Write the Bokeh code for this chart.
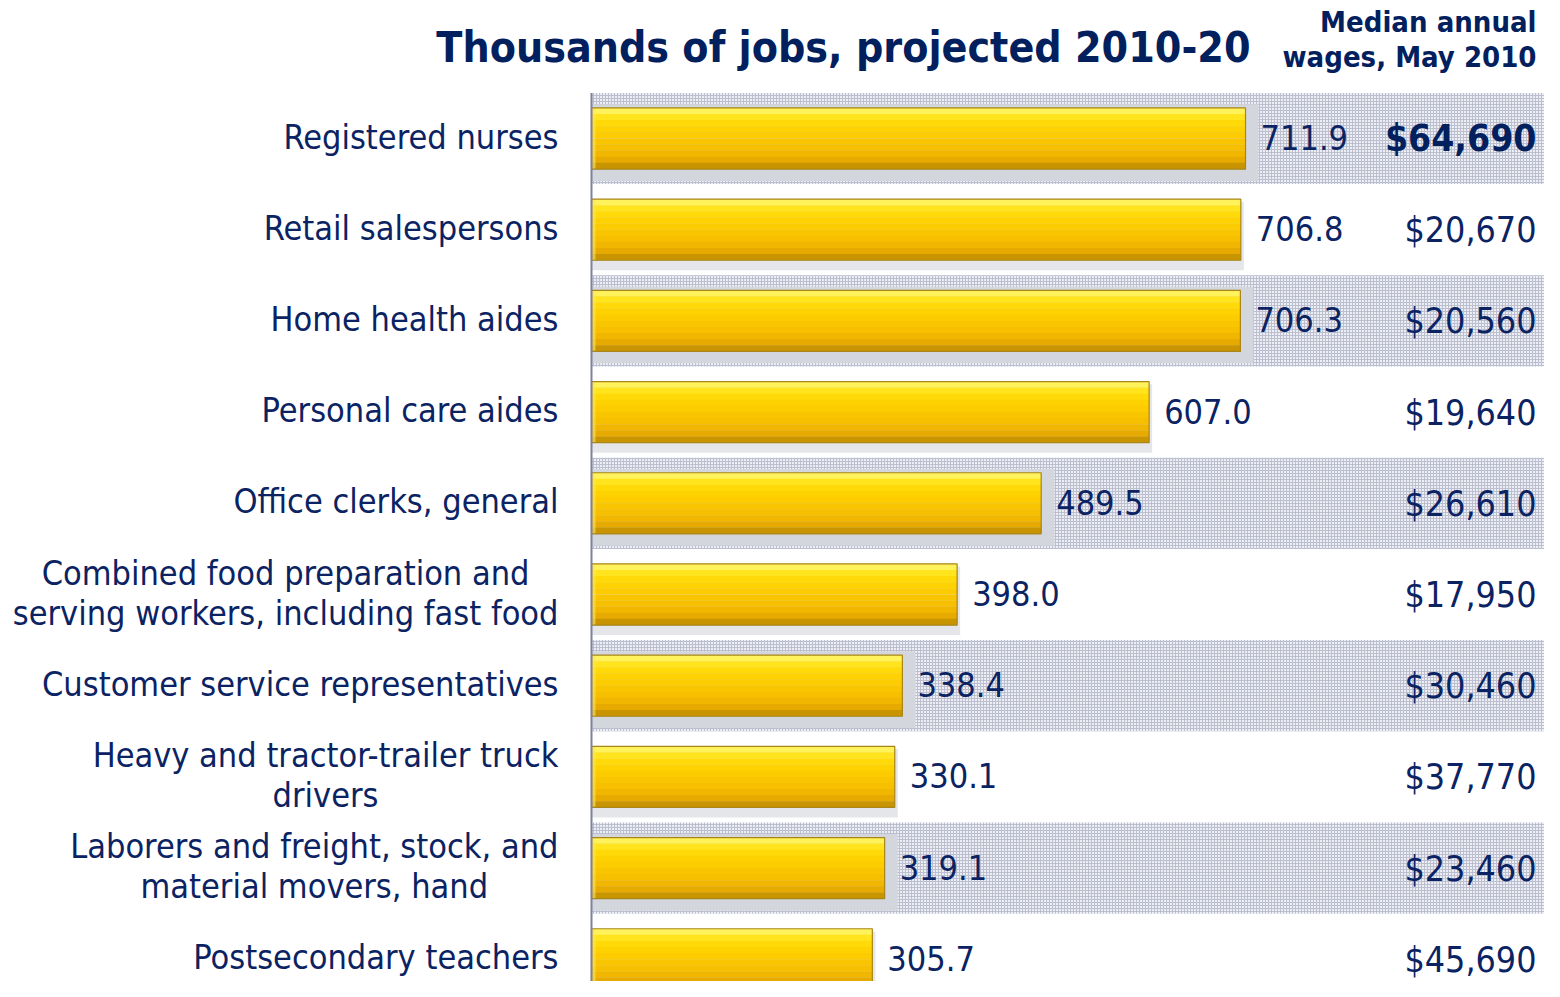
from bokeh.plotting import figure
from bokeh.models import Range1d
from bokeh.core.properties import value
from bokeh.embed import file_html
from bokeh.resources import INLINE

# ---------------- data ----------------
categories = [
    "Registered nurses",
    "Retail salespersons",
    "Home health aides",
    "Personal care aides",
    "Office clerks, general",
    "Combined food preparation and\nserving workers, including fast food",
    "Customer service representatives",
    "Heavy and tractor-trailer truck\ndrivers",
    "Laborers and freight, stock, and\nmaterial movers, hand",
    "Postsecondary teachers",
]
jobs = [711.9, 706.8, 706.3, 607.0, 489.5, 398.0, 338.4, 330.1, 319.1, 305.7]
job_labels = ["711.9", "706.8", "706.3", "607.0", "489.5", "398.0", "338.4", "330.1", "319.1", "305.7"]
wages = ["$64,690", "$20,670", "$20,560", "$19,640", "$26,610", "$17,950",
         "$30,460", "$37,770", "$23,460", "$45,690"]
title_text = "Thousands of jobs, projected 2010-20"
wage_title_1 = "Median annual"
wage_title_2 = "wages, May 2010"

# ---------------- styling ----------------
W, H = 1544, 981
PXU = 0.9187                      # pixels per thousand jobs
PYU = 91.2                        # pixels per row
X_START = -591 / PXU
X_END = X_START + W / PXU
Y_TOP = -138 / PYU
Y_BOTTOM = Y_TOP + H / PYU

def dx(px):
    return px / PXU

def xpix(px):
    return X_START + px / PXU

def ypix(px):
    return Y_TOP + px / PYU

FONT = "DejaVu Sans Condensed"
NAVY = "#0b2363"
NAVY_B = "#03205e"
BAR_H = 0.67

p = figure(width=W, height=H, output_backend="svg", toolbar_location=None,
           x_range=Range1d(X_START, X_END), y_range=Range1d(Y_BOTTOM, Y_TOP),
           min_border=0, min_border_left=0, min_border_right=0,
           min_border_top=0, min_border_bottom=0)
p.axis.visible = False
p.grid.visible = False
p.outline_line_color = None
p.background_fill_color = "white"
p.border_fill_color = "white"

rows = list(range(len(categories)))
band_rows = [r for r in rows if r % 2 == 0]
plain_rows = [r for r in rows if r % 2 == 1]

# shaded bands with fine grid pattern
p.hbar(y=band_rows, left=0, right=X_END, height=1.0,
       fill_color="#eceef4", line_color=None,
       hatch_pattern="+", hatch_color="#bcbfd0", hatch_scale=3, hatch_weight=1)

# soft shadows behind bars
p.hbar(y=[r + 0.045 for r in band_rows], left=0,
       right=[jobs[r] + dx(13) for r in band_rows], height=0.84,
       fill_color="#d3d6dc", line_color=None)
p.hbar(y=[r + 0.07 for r in plain_rows], left=0,
       right=[jobs[r] + dx(3) for r in plain_rows], height=BAR_H + 0.08,
       fill_color="#d4d6dc", fill_alpha=0.6, line_color=None)

# gradient bars (stacked strips)
grad = ["#fff25a", "#ffe41e", "#ffda08", "#fed200", "#fccb00", "#f9c500",
        "#f6bf00", "#f1b700", "#e6aa00", "#c89400"]
n = len(grad)
sh = BAR_H / n
for k, c in enumerate(grad):
    p.hbar(y=[r - BAR_H / 2 + (k + 0.5) * sh for r in rows], left=0, right=jobs,
           height=sh * 1.04, fill_color=c, line_color=None)
# left bevel highlight
p.hbar(y=rows, left=0, right=[dx(4)] * len(rows), height=BAR_H,
       fill_color="#ffe45a", fill_alpha=0.6, line_color=None)
# outline
p.hbar(y=rows, left=0, right=jobs, height=BAR_H, fill_color=None,
       line_color="#a8861a", line_width=1.2)

# axis line
p.segment(x0=[0], y0=[-0.5], x1=[0], y1=[Y_BOTTOM], line_color="#7d829c", line_width=2)

# category labels
p.text(x=[0] * len(rows), y=rows, text=categories, x_offset=-33, y_offset=-2,
       anchor="center_right", text_align="center", text_baseline="middle",
       text_font=value(FONT), text_font_size="34px", text_color=NAVY,
       text_line_height=1.0)

# value labels
p.text(x=jobs, y=rows, text=job_labels, x_offset=15, y_offset=-1,
       text_align="left", text_baseline="middle",
       text_font=value(FONT), text_font_size="34px", text_color=NAVY)

# wage labels
wx = xpix(1536)
p.text(x=[wx], y=[rows[0]], text=[wages[0]], text_align="right", text_baseline="middle",
       text_font=value(FONT), text_font_style="bold", text_font_size="37px",
       text_color=NAVY_B)
p.text(x=[wx] * (len(rows) - 1), y=rows[1:], text=wages[1:],
       text_align="right", text_baseline="middle",
       text_font=value(FONT), text_font_size="35.5px", text_color=NAVY)

# titles
p.text(x=[xpix(1250)], y=[ypix(47)], text=[title_text], text_align="right",
       text_baseline="middle", text_font=value(FONT), text_font_style="bold",
       text_font_size="42.5px", text_color=NAVY_B)
p.text(x=[wx], y=[ypix(21)], text=[wage_title_1], text_align="right",
       text_baseline="middle", text_font=value(FONT), text_font_style="bold",
       text_font_size="29px", text_color=NAVY_B)
p.text(x=[wx], y=[ypix(56)], text=[wage_title_2], text_align="right",
       text_baseline="middle", text_font=value(FONT), text_font_style="bold",
       text_font_size="29px", text_color=NAVY_B)

open("out.html", "w").write(file_html(p, INLINE))
